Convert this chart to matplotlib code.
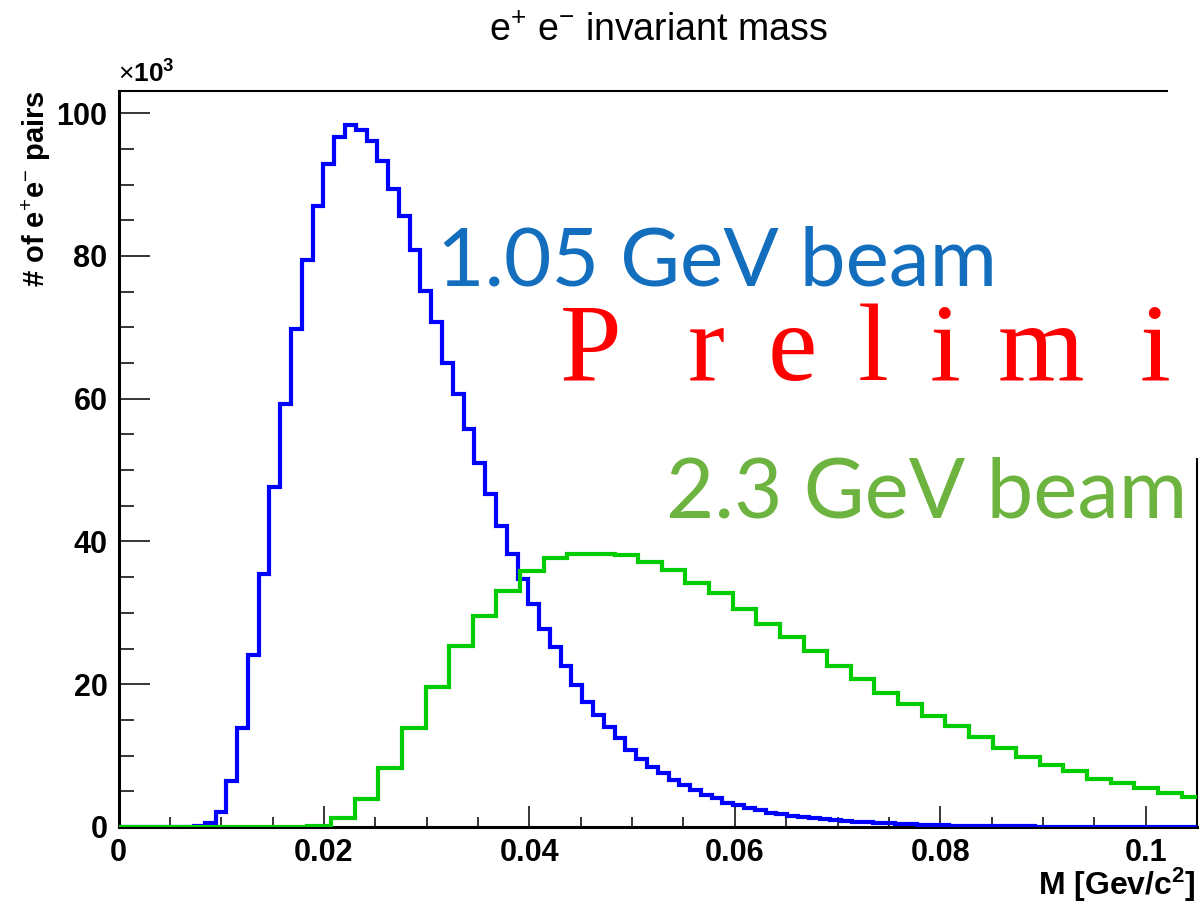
import numpy as np
import matplotlib
matplotlib.use("Agg")
import matplotlib.pyplot as plt
from matplotlib.patches import Rectangle

plt.rcParams['font.family'] = ['Liberation Sans', 'DejaVu Sans']
plt.rcParams['mathtext.fontset'] = 'custom'
plt.rcParams['mathtext.rm'] = 'Liberation Sans'
plt.rcParams['mathtext.it'] = 'Liberation Sans'
plt.rcParams['mathtext.bf'] = 'Liberation Sans:bold'

# --- Data (counts in units of 10^3) ---
blue_bin_width = 0.00105   # 1.05 GeV beam, 100 bins
green_bin_width = 0.0023   # 2.3 GeV beam
blue_counts = [
    0, 0, 0, 0, 0, 0, 0, 0.1, 0.5, 2.1,
    6.5, 13.9, 24.1, 35.4, 47.6, 59.2, 69.8, 79.4, 87.0, 92.9,
    96.6, 98.3, 97.7, 96.1, 93.3, 89.4, 85.6, 80.8, 75.1, 70.8,
    65.0, 60.6, 55.7, 51.0, 46.6, 42.2, 38.3, 34.8, 31.2, 27.8,
    25.2, 22.5, 19.9, 17.5, 15.7, 14.0, 12.4, 10.8, 9.5, 8.4,
    7.5, 6.6, 5.9, 5.2, 4.5, 4.0, 3.4, 3.1, 2.7, 2.4,
    2.0, 1.8, 1.6, 1.4, 1.25, 1.1, 0.95, 0.85, 0.75, 0.65,
    0.57, 0.5, 0.43, 0.38, 0.33, 0.28, 0.24, 0.21, 0.18, 0.15,
    0.13, 0.11, 0.10, 0.09, 0.08, 0.07, 0.06, 0.05, 0.05, 0.04,
    0.04, 0.03, 0.03, 0.03, 0.02, 0.02, 0.02, 0.02, 0.02, 0.01,
]
green_counts = [
    0, 0, 0, 0, 0, 0, 0, 0, 0.2, 1.2,
    3.9, 8.3, 13.8, 19.6, 25.4, 29.5, 33.1, 35.8, 37.7, 38.3,
    38.2, 38.1, 37.1, 36.0, 34.2, 32.8, 30.5, 28.5, 26.6, 24.6,
    22.5, 20.8, 18.8, 17.2, 15.5, 14.1, 12.6, 11.1, 9.8, 8.7,
    7.9, 6.7, 6.2, 5.4, 4.7, 4.2,
]
blue_edges = np.arange(len(blue_counts) + 1) * blue_bin_width
green_edges = np.arange(len(green_counts) + 1) * green_bin_width

x_ticks = [0, 0.02, 0.04, 0.06, 0.08, 0.1]
x_ticklabels = ['0', '0.02', '0.04', '0.06', '0.08', '0.1']
y_ticks = [0, 20, 40, 60, 80, 100]
y_ticklabels = ['0', '20', '40', '60', '80', '100']

prelim_letters = ['P', 'r', 'e', 'l', 'i', 'm', 'i']
prelim_x = [560, 688, 768, 858, 930, 998, 1140]  # pixel x of each letter

# --- Figure ---
fig = plt.figure(figsize=(12, 9.06), dpi=100)
ax = fig.add_axes([118.5 / 1200, 79 / 906, 1078.5 / 1200, 736 / 906])

ax.stairs(blue_counts, blue_edges, color='#0000ff', lw=3, zorder=3)
ax.stairs(green_counts, green_edges, color='#00cc00', lw=3, zorder=3)

ax.set_xlim(0, 0.105)
ax.set_ylim(0, 103.1)
ax.set_xticks(x_ticks, x_ticklabels)
ax.set_yticks(y_ticks, y_ticklabels)
ax.set_xticks(np.arange(0, 0.1051, 0.005), minor=True)
ax.set_yticks(np.arange(0, 101, 5), minor=True)
ax.tick_params(axis='both', which='both', direction='in', top=False, right=False,
               width=1.1, labelsize=22)
ax.tick_params(axis='y', which='major', length=22, pad=8)
ax.tick_params(axis='y', which='minor', length=11)
ax.tick_params(axis='x', which='major', length=15, pad=8)
ax.tick_params(axis='x', which='minor', length=7.5)
for lbl in ax.get_xticklabels() + ax.get_yticklabels():
    lbl.set_fontweight('bold')
for side in ['left', 'bottom']:
    ax.spines[side].set_linewidth(2.2)
for side in ['top', 'right']:
    ax.spines[side].set_linewidth(1.5)

# white box of the overlaid slide text hides the top-right corner of the frame
fig.patches.append(Rectangle((1168 / 1200, 1 - 458 / 906), 32 / 1200, 375 / 906,
                             transform=fig.transFigure, facecolor='white',
                             edgecolor='none', zorder=5))

# --- Texts ---
fig.text(658 / 1200, 1 - 31 / 906, r'e$^{+}$ e$^{-}$ invariant mass',
         ha='center', va='center', fontsize=27)
fig.text(118 / 1200, 1 - 74 / 906, r'$\times$10$^{\mathbf{3}}$', ha='left', va='center',
         fontsize=19, fontweight='bold')
fig.text(36 / 1200, 1 - 90 / 906, r'# of e$^{+}$e$^{-}$ pairs', rotation=90,
         ha='center', va='top', fontsize=21, fontweight='bold')
fig.text(1196 / 1200, 1 - 885 / 906, r'M [Gev/c$^{\mathbf{2}}$]', ha='right', va='center',
         fontsize=23, fontweight='bold')

fig.text(437 / 1200, 1 - 263 / 906, '1.05 GeV beam', ha='left', va='center',
         fontsize=59, color='#146ebe', family='Lato', zorder=6)
for letter, px in zip(prelim_letters, prelim_x):
    fig.text(px / 1200, 1 - 380 / 906, letter, ha='left', va='baseline',
             fontsize=80, color='#ff0000', family='Liberation Serif', zorder=6)
fig.text(666 / 1200, 1 - 494 / 906, '2.3 GeV beam', ha='left', va='center',
         fontsize=60, color='#6db33f', family='Lato', zorder=6)

fig.savefig('out.png', dpi=100)
